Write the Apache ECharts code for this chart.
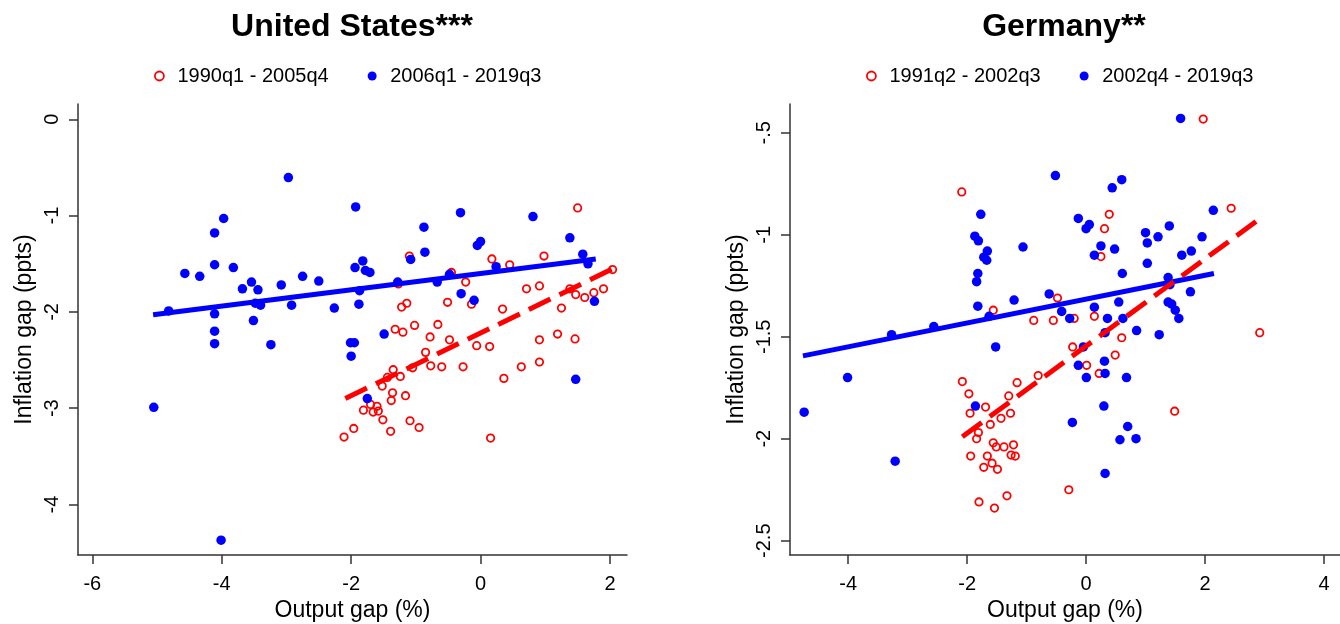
<!DOCTYPE html>
<html>
<head>
<meta charset="utf-8">
<script src="https://cdn.jsdelivr.net/npm/echarts@6/dist/echarts.min.js"></script>
<style>
  html, body { margin: 0; padding: 0; background: #fff; }
  #chart { width: 1340px; height: 624px; }
</style>
</head>
<body>
<div id="chart"></div>
<script>
// ---------------- DATA ----------------
var usTitle = 'United States***';
var deTitle = 'Germany**';
var usEarlyName = '1990q1 - 2005q4';
var usLateName = '2006q1 - 2019q3';
var deEarlyName = '1991q2 - 2002q3';
var deLateName = '2002q4 - 2019q3';

// United States, 1990q1 - 2005q4 : [output gap, inflation gap]
var usEarly = [
  [-1.10,-1.42],[1.50,-0.92],[0.175,-1.45],[0.45,-1.51],[0.98,-1.42],[-0.45,-1.59],[-0.23,-1.69],
  [-1.27,-1.71],[-1.14,-1.91],[-1.22,-1.95],[-0.51,-1.90],[-0.14,-1.92],[0.34,-1.97],[0.71,-1.76],
  [0.91,-1.73],[1.25,-1.96],[1.38,-1.76],[1.47,-1.82],[1.61,-1.85],[1.75,-1.80],[1.90,-1.76],[2.04,-1.56],
  [-1.32,-2.18],[-1.20,-2.21],[-1.02,-2.14],[-0.66,-2.13],[-0.78,-2.26],[-0.48,-2.29],[-0.06,-2.35],
  [0.14,-2.36],[0.91,-2.29],[1.19,-2.23],[1.46,-2.28],[-0.85,-2.42],[-1.35,-2.60],[-1.44,-2.68],
  [-1.24,-2.67],[-1.52,-2.77],[-1.05,-2.58],[-0.77,-2.56],[-0.60,-2.57],[-0.27,-2.57],[0.63,-2.57],
  [0.91,-2.52],[0.36,-2.69],[-1.36,-2.84],[-1.38,-2.92],[-1.16,-2.87],[-1.70,-2.96],[-1.60,-2.98],
  [-1.81,-3.02],[-1.66,-3.04],[-1.58,-3.03],[-1.51,-3.12],[-1.09,-3.13],[-0.95,-3.20],[-1.39,-3.24],
  [-1.96,-3.21],[-2.11,-3.30],[0.155,-3.31]
];
// United States, 2006q1 - 2019q3
var usLate = [
  [-5.05,-2.99],[-4.82,-1.99],[-4.57,-1.60],[-4.34,-1.63],[-4.11,-1.18],[-3.97,-1.03],[-4.11,-1.51],
  [-3.82,-1.54],[-3.68,-1.76],[-3.54,-1.69],[-3.44,-1.77],[-3.08,-1.72],[-2.97,-0.605],[-2.75,-1.63],
  [-2.50,-1.68],[-1.93,-0.91],[-1.94,-1.54],[-1.82,-1.47],[-1.78,-1.57],[-1.71,-1.59],[-0.875,-1.12],
  [-0.86,-1.38],[-1.08,-1.455],[-0.31,-0.97],[-0.05,-1.31],[0.00,-1.27],[0.81,-1.01],[1.38,-1.23],
  [1.58,-1.40],[1.66,-1.50],[0.24,-1.53],[-1.28,-1.69],[-1.87,-1.78],[-0.48,-1.61],[-0.67,-1.69],
  [-0.30,-1.81],[-0.10,-1.88],[1.76,-1.89],[-1.88,-1.92],[-2.26,-1.96],[-1.49,-2.23],[-2.01,-2.32],
  [-1.95,-2.32],[-2.00,-2.46],[-1.75,-2.90],[1.47,-2.70],[-4.11,-2.02],[-4.11,-2.20],[-4.11,-2.33],
  [-3.51,-2.09],[-3.24,-2.34],[-4.01,-4.37],[-3.48,-1.91],[-3.40,-1.93],[-2.92,-1.93]
];
// fitted lines (end points)
var usEarlyFit = [[-2.09,-2.90],[2.05,-1.55]];
var usLateFit = [[-5.06,-2.03],[1.78,-1.45]];

// Germany, 1991q2 - 2002q3
var deEarly = [
  [-2.09,-0.79],[-1.56,-1.37],[-0.88,-1.42],[-0.55,-1.42],[-0.48,-1.31],
  [1.97,-0.433],[2.44,-0.87],[0.39,-0.90],[0.31,-0.97],[0.25,-1.107],[-0.20,-1.41],[0.14,-1.40],
  [0.60,-1.505],[-0.225,-1.55],[2.92,-1.48],
  [-2.08,-1.72],[-1.97,-1.78],[-1.95,-1.875],[-1.69,-1.845],[-1.81,-1.97],[-1.84,-2.00],[-1.61,-1.93],
  [-1.43,-1.90],[-1.27,-1.875],[-1.30,-1.79],[-1.16,-1.725],[-0.805,-1.69],[-1.56,-2.02],[-1.51,-2.04],
  [-1.38,-2.04],[-1.22,-2.03],[-1.26,-2.08],[-1.19,-2.085],[-1.94,-2.085],[-1.66,-2.085],[-1.72,-2.14],
  [-1.58,-2.12],[-1.49,-2.15],[-1.80,-2.31],[-1.33,-2.28],[-1.54,-2.34],
  [0.01,-1.64],[0.49,-1.59],[0.22,-1.68],[1.49,-1.865],[-0.29,-2.25]
];
// Germany, 2002q4 - 2019q3
var deLate = [
  [-0.515,-0.71],[-1.77,-0.90],[-1.87,-1.007],[-1.81,-1.03],[-1.66,-1.08],[-1.72,-1.11],[-1.67,-1.125],
  [-1.06,-1.06],[-1.82,-1.19],[-1.84,-1.23],[-1.82,-1.35],[-1.21,-1.32],[-0.62,-1.29],[-3.27,-1.49],
  [-2.56,-1.45],[-1.52,-1.55],[-1.63,-1.40],
  [1.59,-0.43],[0.60,-0.73],[0.44,-0.77],[2.14,-0.88],[-0.13,-0.92],[0.055,-0.95],[0.00,-0.97],
  [1.40,-0.957],[1.00,-0.99],[1.21,-1.01],[1.03,-1.04],[1.95,-1.01],[0.25,-1.055],[0.48,-1.07],
  [0.14,-1.10],[1.61,-1.10],[1.77,-1.08],[1.03,-1.14],[0.61,-1.19],[1.38,-1.21],[1.41,-1.245],
  [1.755,-1.28],[0.55,-1.33],[0.14,-1.355],[1.38,-1.33],[1.44,-1.34],[1.50,-1.37],[1.56,-1.41],
  [-0.41,-1.376],[-0.275,-1.41],[0.36,-1.41],[0.62,-1.41],[0.32,-1.48],[0.85,-1.47],[1.23,-1.49],
  [-0.045,-1.55],
  [-4.01,-1.70],[-4.74,-1.87],[-1.86,-1.84],[-3.21,-2.11],
  [-0.13,-1.64],[0.005,-1.70],[0.31,-1.62],[0.32,-1.68],[0.68,-1.70],[0.30,-1.84],[-0.23,-1.92],
  [0.70,-1.94],[0.57,-2.005],[0.84,-2.00],[0.32,-2.17]
];
var deEarlyFit = [[-2.08,-1.99],[2.92,-0.922]];
var deLateFit = [[-4.76,-1.594],[2.15,-1.19]];

// tick values
var usXTicks = [-6, -4, -2, 0, 2];
var usYTicks = [-4, -3, -2, -1, 0];
var deXTicks = [-4, -2, 0, 2, 4];
var deYTicks = [-2.5, -2, -1.5, -1, -0.5];

var xName = 'Output gap (%)';
var yName = 'Inflation gap (ppts)';

// ---------------- CHART ----------------
var FONT = '"Liberation Sans", Arial, Helvetica, sans-serif';
var RED = '#ff0000';
var BLUE = '#0000ff';

function stataNum(v) {
  var s = String(v);
  return s.replace(/^(-?)0\./, '$1.');
}

function xAxisCfg(grid, min, max, ticks) {
  return {
    type: 'value', gridIndex: grid, min: min, max: max,
    axisLine: { show: true, onZero: false, lineStyle: { color: '#333', width: 1.5 } },
    axisTick: { show: true, length: 9, customValues: ticks, lineStyle: { color: '#333', width: 1.5 } },
    axisLabel: { customValues: ticks, fontSize: 20, margin: 19, color: '#000', fontFamily: FONT,
                 formatter: function (v) { return stataNum(v); } },
    splitLine: { show: false },
    name: xName, nameLocation: 'middle', nameGap: 42,
    nameTextStyle: { fontSize: 23, color: '#000', fontFamily: FONT }
  };
}
function yAxisCfg(grid, min, max, ticks) {
  return {
    type: 'value', gridIndex: grid, min: min, max: max,
    axisLine: { show: true, onZero: false, lineStyle: { color: '#333', width: 1.5 } },
    axisTick: { show: true, length: 9, customValues: ticks, lineStyle: { color: '#333', width: 1.5 } },
    axisLabel: { customValues: ticks, fontSize: 20, margin: 16, rotate: 90, color: '#000', fontFamily: FONT,
                 formatter: function (v) { return stataNum(v); } },
    splitLine: { show: false },
    name: yName, nameLocation: 'middle', nameGap: 42, nameRotate: 90,
    nameTextStyle: { fontSize: 23, color: '#000', fontFamily: FONT }
  };
}
function redScatter(name, data, idx) {
  return { type: 'scatter', name: name, data: data, xAxisIndex: idx, yAxisIndex: idx,
    symbol: 'circle', symbolSize: 7.4, z: 2,
    itemStyle: { color: 'rgba(255,255,255,0)', borderColor: RED, borderWidth: 1.8, opacity: 1 },
    emphasis: { disabled: true } };
}
function blueScatter(name, data, idx) {
  return { type: 'scatter', name: name, data: data, xAxisIndex: idx, yAxisIndex: idx,
    symbol: 'circle', symbolSize: 9.5, z: 3,
    itemStyle: { color: BLUE, opacity: 1 },
    emphasis: { disabled: true } };
}
function fitLine(data, idx, color, dashed) {
  return { type: 'line', data: data, xAxisIndex: idx, yAxisIndex: idx,
    symbol: 'none', showSymbol: false, z: dashed ? 5 : 4, silent: true,
    lineStyle: { color: color, width: 5, opacity: 1, type: dashed ? [24, 10] : 'solid', cap: 'butt' } };
}
function legendCfg(left, names) {
  return {
    left: left, top: 66, orient: 'horizontal', padding: 0,
    itemWidth: 26, itemHeight: 9, itemGap: 39, selectedMode: false,
    textStyle: { fontSize: 20, color: '#000', fontFamily: FONT },
    data: [
      { name: names[0], icon: 'circle',
        itemStyle: { color: 'rgba(255,255,255,0)', borderColor: RED, borderWidth: 1.8, opacity: 1 } },
      { name: names[1], icon: 'circle', itemStyle: { color: BLUE, borderWidth: 0, opacity: 1 } }
    ]
  };
}

var chart = echarts.init(document.getElementById('chart'), null, { renderer: 'canvas' });
chart.setOption({
  animation: false,
  backgroundColor: '#fff',
  title: [
    { text: usTitle, left: 352, top: 11, textAlign: 'center', padding: 0,
      textStyle: { fontSize: 32, fontWeight: 'bold', color: '#000', fontFamily: FONT } },
    { text: deTitle, left: 1064, top: 11, textAlign: 'center', padding: 0,
      textStyle: { fontSize: 32, fontWeight: 'bold', color: '#000', fontFamily: FONT } }
  ],
  legend: [
    legendCfg(154, [usEarlyName, usLateName]),
    legendCfg(866, [deEarlyName, deLateName])
  ],
  grid: [
    { left: 78, top: 104, width: 549, height: 451, containLabel: false, outerBoundsMode: 'none' },
    { left: 790, top: 104, width: 550, height: 451, containLabel: false, outerBoundsMode: 'none' }
  ],
  xAxis: [
    xAxisCfg(0, -6.221, 2.263, usXTicks),
    xAxisCfg(1, -4.978, 4.27, deXTicks)
  ],
  yAxis: [
    yAxisCfg(0, -4.524, 0.159, usYTicks),
    yAxisCfg(1, -2.570, -0.359, deYTicks)
  ],
  series: [
    redScatter(usEarlyName, usEarly, 0),
    blueScatter(usLateName, usLate, 0),
    fitLine(usLateFit, 0, BLUE, false),
    fitLine(usEarlyFit, 0, RED, true),
    redScatter(deEarlyName, deEarly, 1),
    blueScatter(deLateName, deLate, 1),
    fitLine(deLateFit, 1, BLUE, false),
    fitLine(deEarlyFit, 1, RED, true)
  ]
});
</script>
</body>
</html>
